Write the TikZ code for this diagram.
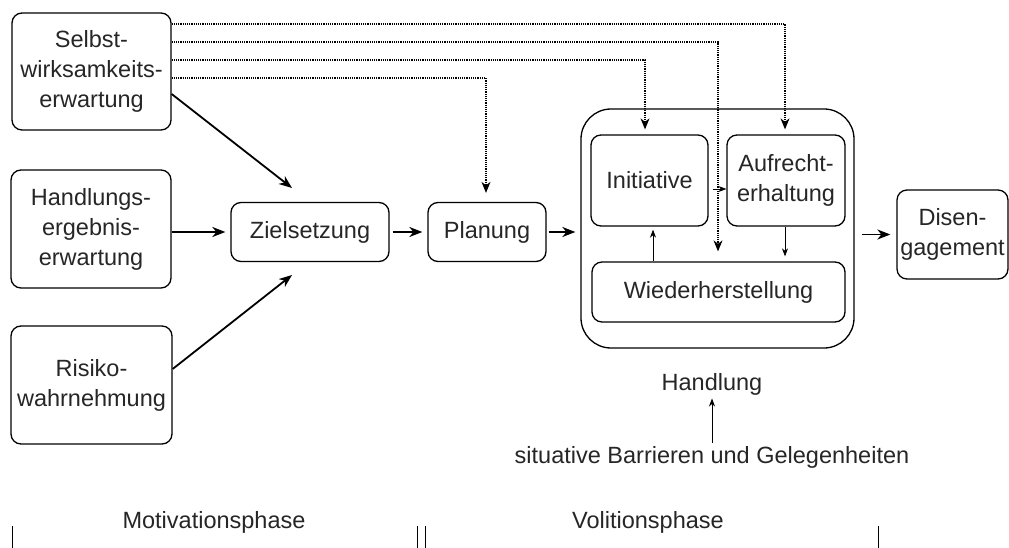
\documentclass[tikz,border=0pt]{standalone}
\usepackage{fontspec}
\setmainfont{Liberation Sans}
\usetikzlibrary{arrows.meta}

\begin{document}
\begin{tikzpicture}[x=1pt,y=-1pt,
  font=\fontsize{23.5}{30}\selectfont,
  box/.style={draw,rounded corners=10pt,line width=1.3pt,align=center,inner sep=0pt,text=black!85},
  arr/.style={-{Stealth[length=13pt,width=10pt,inset=4pt]},line width=1.8pt},
  thinarr/.style={-{Stealth[length=8pt,width=6pt,inset=2.5pt]},line width=0.7pt},
  dotarr/.style={-{Stealth[length=11pt,width=9pt,inset=3.5pt]},line width=1.1pt,dash pattern=on 1.1pt off 1.1pt},
  phase/.style={line width=1pt}]
\useasboundingbox (0,0) rectangle (1009,548);

% Motivation factors
\node[box,minimum width=159pt,minimum height=117pt] (selbst) at (91.5,71.5) {Selbst-\\wirksamkeits-\\erwartung};
\node[box,minimum width=160pt,minimum height=118pt] (ergeb) at (91,229) {Handlungs-\\ergebnis-\\erwartung};
\node[box,minimum width=161pt,minimum height=118pt] (risiko) at (91.5,385) {Risiko-\\wahrnehmung};

% Goal setting and planning
\node[box,minimum width=158pt,minimum height=59pt] (ziel) at (310,232) {Zielsetzung};
\node[box,minimum width=118pt,minimum height=59pt] (plan) at (487,232) {Planung};
\coordinate (zielin1) at (292,188);
\coordinate (zielin2) at (292,275);

% Action
\node[box,rounded corners=30pt,minimum width=273pt,minimum height=239pt] (hand) at (717.5,228.5) {};
\node[box,minimum width=117pt,minimum height=91pt] (init) at (649.5,180.5) {Initiative};
\node[box,minimum width=118pt,minimum height=91pt] (aufr) at (786,180.5) {Aufrecht-\\erhaltung};
\node[box,minimum width=253pt,minimum height=60pt] (wieder) at (718.5,292) {Wiederherstellung};
\node[box,minimum width=111pt,minimum height=89pt] (diseng) at (952.5,234.5) {Disen-\\gagement};

\node[text=black!85] (handlab) at (712,384) {Handlung};
\node[text=black!85] (barr) at (712,457) {situative Barrieren und Gelegenheiten};

% Main arrows
\draw[arr] ([yshift=-22.5pt]selbst.east) -- (zielin1);
\draw[arr] (ergeb.east |- ziel.west) -- ([xshift=-5pt]ziel.west);
\draw[arr] ([yshift=16pt]risiko.east) -- (zielin2);
\draw[arr,shorten <=3pt] (ziel.east) -- ([xshift=-5pt]plan.west);
\draw[arr,shorten <=2pt] (plan.east) -- ([xshift=-5pt]plan.east -| hand.west);
\draw[arr,shorten <=7pt] (hand.east |- diseng.west) -- ([xshift=-6pt]diseng.west);

% Inner arrows
\draw[thinarr,shorten <=4pt] ([yshift=-8.5pt]init.east) -- ([yshift=-8.5pt]init.east -| aufr.west);
\draw[thinarr,shorten >=3pt] ([xshift=3.5pt]init.south |- wieder.north) -- ([xshift=3.5pt]init.south);
\draw[thinarr,shorten >=5pt] ([xshift=-1pt]aufr.south) -- ([xshift=-1pt]aufr.south |- wieder.north);
\draw[thinarr] (barr.north -| handlab.south) -- (handlab.south);

% Dotted influences of self-efficacy
\draw[dotarr,shorten >=5pt] ([yshift=47.5pt]selbst.east) -| ([xshift=-1pt]aufr.north);
\draw[dotarr,shorten >=10pt] ([yshift=29.5pt]selbst.east) -| ([xshift=-0.5pt]wieder.north);
\draw[dotarr,shorten >=5pt] ([yshift=11.5pt]selbst.east) -| ([xshift=-4.5pt]init.north);
\draw[dotarr,shorten >=9pt] ([yshift=-6.5pt]selbst.east) -| ([xshift=-1pt]plan.north);

% Phases
\node[text=black!85] (motiv) at (214,522) {Motivationsphase};
\node[text=black!85] (voli) at (648,522) {Volitionsphase};
\draw[phase] (12,526) -- (12,548);
\draw[phase] (417,526) -- (417,548);
\draw[phase] (425,526) -- (425,548);
\draw[phase] (878,526) -- (878,548);
\end{tikzpicture}
\end{document}
